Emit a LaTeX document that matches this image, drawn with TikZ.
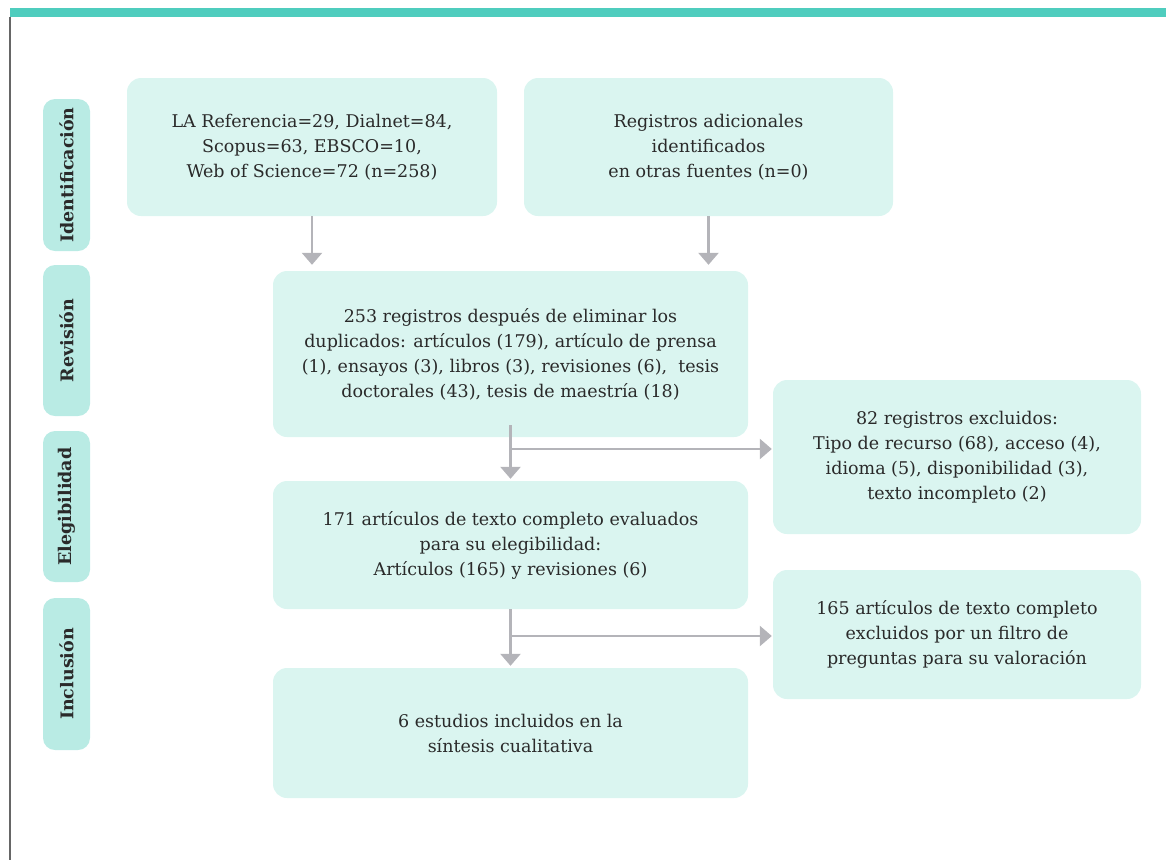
\documentclass[tikz,border=0pt]{standalone}
\usepackage{fontspec}
\setmainfont{DejaVu Serif}
\usetikzlibrary{arrows.meta}
\definecolor{barteal}{HTML}{4FCDBE}
\definecolor{boxfill}{HTML}{DAF5F0}
\definecolor{sidefill}{HTML}{B9EBE4}
\definecolor{arrgray}{HTML}{B4B4B9}
\definecolor{txtgray}{HTML}{2A2A2A}
\begin{document}
\begin{tikzpicture}[x=1pt,y=-1pt,
  box/.style={fill=boxfill,rounded corners=14pt,align=center,text=txtgray,
    font=\fontsize{17.5}{25}\selectfont,inner sep=0pt},
  side/.style={fill=sidefill,rounded corners=12pt,rotate=90,text=txtgray,
    font=\fontsize{17.5}{18}\selectfont\bfseries,minimum height=47pt,inner sep=0pt},
  arr/.style={draw=arrgray,line width=2.6pt,-{Triangle[width=20pt,length=12pt]}}]
\useasboundingbox (0,0) rectangle (1166,860);
\fill[barteal] (10,8) rectangle (1166,16.5);
\draw[gray!80!black,line width=1.2pt] (10,16.5) -- (10,860);
% side labels
\node[side,minimum width=152pt] (ident) at (66.5,175) {Identificación};
\node[side,minimum width=151pt] (revis) at (66.5,340.5) {Revisión};
\node[side,minimum width=151pt] (elegi) at (66.5,506.5) {Elegibilidad};
\node[side,minimum width=152pt] (inclu) at (66.5,674) {Inclusión};
% boxes
\node[box,minimum width=370pt,minimum height=138pt] (bases) at (312,147)
  {LA Referencia=29, Dialnet=84,\\Scopus=63, EBSCO=10,\\Web of Science=72 (n=258)};
\node[box,minimum width=369pt,minimum height=138pt] (otras) at (708.5,147)
  {Registros adicionales\\identificados\\en otras fuentes (n=0)};
\node[box,minimum width=475pt,minimum height=166pt] (dupl) at (510.5,354)
  {253 registros después de eliminar los\\duplicados: artículos (179), artículo de prensa\\(1), ensayos (3), libros (3), revisiones (6), \ tesis\\doctorales (43), tesis de maestría (18)};
\node[box,minimum width=368pt,minimum height=154pt] (excl) at (957,457)
  {82 registros excluidos:\\Tipo de recurso (68), acceso (4),\\idioma (5), disponibilidad (3),\\texto incompleto (2)};
\node[box,minimum width=475pt,minimum height=128pt] (eleg) at (510.5,545)
  {171 artículos de texto completo evaluados\\para su elegibilidad:\\Artículos (165) y revisiones (6)};
\node[box,minimum width=368pt,minimum height=129pt] (filt) at (957,634.5)
  {165 artículos de texto completo\\excluidos por un filtro de\\preguntas para su valoración};
\node[box,minimum width=475pt,minimum height=130pt] (incl) at (510.5,733)
  {6 estudios incluidos en la\\síntesis cualitativa};
% connectors
\coordinate (s1) at (511,449);
\coordinate (s2) at (511,636);
\draw[arr,shorten >=6pt] (bases.south) -- (bases.south |- dupl.north);
\draw[arr,shorten >=6pt] (otras.south) -- (otras.south |- dupl.north);
\draw[arr] ([yshift=12pt]dupl.south) -- ([yshift=2pt]eleg.north);
\draw[arr] (s1) -- ([xshift=-1pt]s1 -| excl.west);
\draw[arr] (eleg.south) -- ([yshift=2pt]incl.north);
\draw[arr] (s2) -- ([xshift=-1pt]s2 -| filt.west);
\end{tikzpicture}
\end{document}
